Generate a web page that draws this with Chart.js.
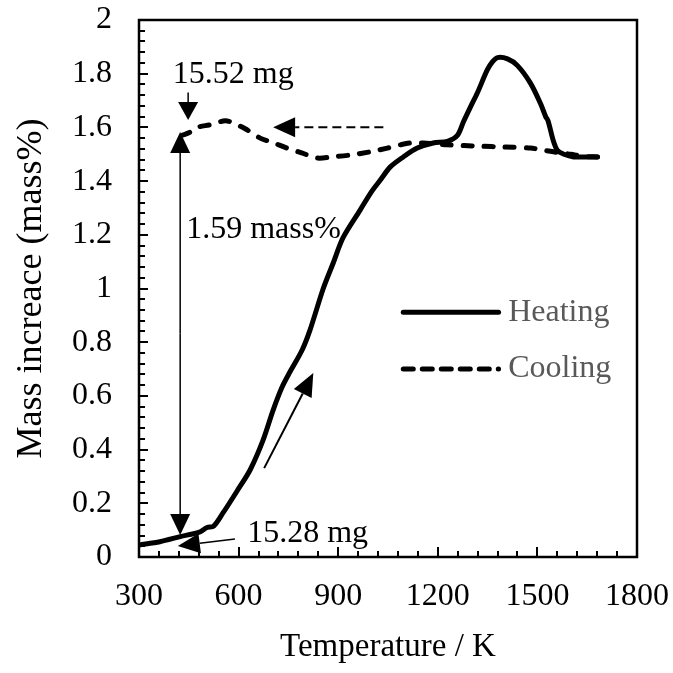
<!DOCTYPE html>
<html><head><meta charset="utf-8">
<script src="https://cdn.jsdelivr.net/npm/chart.js@4.4.0/dist/chart.umd.min.js"></script>
<style>html,body{margin:0;padding:0;background:#fff;}</style>
</head><body>
<canvas id="c" width="673" height="673" style="display:block;width:673px;height:673px"></canvas>
<script>
// ---- data ----
const heatingT    = [300, 363, 424, 484, 505, 525, 553, 595, 635, 674, 704, 731, 755, 791, 815, 855, 885, 915, 966, 1000, 1027, 1057, 1096, 1138, 1186, 1229, 1259, 1277, 1300, 1319, 1349, 1365, 1380, 1410, 1440, 1479, 1509, 1525, 1532, 1548, 1560, 1580, 1609, 1650, 1681];
const heatingMass = [0.045, 0.057, 0.076, 0.094, 0.11, 0.115, 0.164, 0.245, 0.325, 0.436, 0.547, 0.633, 0.69, 0.77, 0.845, 1.0, 1.095, 1.19, 1.292, 1.36, 1.404, 1.453, 1.49, 1.523, 1.542, 1.548, 1.57, 1.62, 1.68, 1.728, 1.814, 1.845, 1.86, 1.855, 1.83, 1.765, 1.69, 1.64, 1.625, 1.55, 1.515, 1.5, 1.49, 1.49, 1.49];
const coolingT    = [1681, 1640, 1600, 1569, 1520, 1479, 1397, 1328, 1229, 1157, 1117, 1087, 1048, 1000, 936, 880, 837, 790, 746, 700, 665, 620, 584, 560, 515, 475, 450, 433];
const coolingMass = [1.49, 1.492, 1.5, 1.505, 1.515, 1.523, 1.527, 1.53, 1.535, 1.542, 1.542, 1.535, 1.523, 1.51, 1.497, 1.49, 1.486, 1.505, 1.523, 1.545, 1.56, 1.595, 1.616, 1.625, 1.61, 1.6, 1.58, 1.572];
const seriesNames = ['Heating', 'Cooling'];
const xTickValues = [300, 600, 900, 1200, 1500, 1800];
const xTickLabels = ['300', '600', '900', '1200', '1500', '1800'];
const yTickValues = [0, 0.2, 0.4, 0.6, 0.8, 1, 1.2, 1.4, 1.6, 1.8, 2];
const yTickLabels = ['0', '0.2', '0.4', '0.6', '0.8', '1', '1.2', '1.4', '1.6', '1.8', '2'];
const xTitle = 'Temperature / K';
const yTitle = 'Mass increace (mass%)';
// annotations in data coordinates
const noteTop = {text: '15.52 mg', x: 402, y: 1.795};
const noteTopArrow = {x: 448, y0: 1.73, y1: 1.628};
const noteSpan = {text: '1.59 mass%', x: 442, y: 1.218, ax: 424, y0: 0.082, y1: 1.583};
const noteBottom = {text: '15.28 mg', x: 626, y: 0.089, x0: 589, y0: 0.067, x1: 417, y1: 0.041};
const heatArrow = {x0: 677, y0: 0.331, x1: 825, y1: 0.685};
const coolArrow = {x0: 1036, y0: 1.601, x1: 704, y1: 1.601};
const legendPos = {x0: 1096, x1: 1383, xt: 1412, yHeat: 0.912, yCool: 0.70};

const FONT = "'Liberation Serif', 'Times New Roman', serif";

function arrow(ctx, x0, y0, x1, y1, lw, hl, hw, dash) {
  const dx = x1 - x0, dy = y1 - y0, L = Math.hypot(dx, dy);
  const ux = dx / L, uy = dy / L, nx = -uy, ny = ux;
  const bx = x1 - ux * hl, by = y1 - uy * hl;
  ctx.save();
  ctx.lineWidth = lw; ctx.strokeStyle = '#000'; ctx.fillStyle = '#000';
  ctx.setLineDash(dash || []);
  ctx.beginPath(); ctx.moveTo(x0, y0); ctx.lineTo(bx, by); ctx.stroke();
  ctx.setLineDash([]);
  ctx.beginPath();
  ctx.moveTo(x1, y1);
  ctx.lineTo(bx + nx * hw / 2, by + ny * hw / 2);
  ctx.lineTo(bx - nx * hw / 2, by - ny * hw / 2);
  ctx.closePath(); ctx.fill();
  ctx.restore();
}

const decor = {
  id: 'decor',
  afterDatasetsDraw(chart) {
    const {ctx, chartArea: a, scales: {x, y}} = chart;
    ctx.save();
    // frame
    ctx.strokeStyle = '#000'; ctx.lineWidth = 2.5;
    ctx.strokeRect(a.left, a.top, a.right - a.left, a.bottom - a.top);
    // inside tick marks
    ctx.lineWidth = 2;
    ctx.beginPath();
    for (let i = 0; i <= 50; i++) {
      const v = i * 0.04;
      const py = Math.round(y.getPixelForValue(v));
      const len = (i % 5 === 0) ? 9 : 6;
      ctx.moveTo(a.left, py); ctx.lineTo(a.left + len, py);
    }
    for (let i = 0; i <= 25; i++) {
      const v = 300 + i * 60;
      const px = Math.round(x.getPixelForValue(v));
      const len = (i % 5 === 0) ? 10 : 6;
      ctx.moveTo(px, a.bottom); ctx.lineTo(px, a.bottom - len);
    }
    ctx.stroke();

    // annotations
    ctx.fillStyle = '#000';
    ctx.font = '32px ' + FONT;
    ctx.textBaseline = 'middle'; ctx.textAlign = 'left';
    ctx.fillText(noteTop.text, x.getPixelForValue(noteTop.x), y.getPixelForValue(noteTop.y));
    ctx.fillText(noteSpan.text, x.getPixelForValue(noteSpan.x), y.getPixelForValue(noteSpan.y));
    ctx.fillText(noteBottom.text, x.getPixelForValue(noteBottom.x), y.getPixelForValue(noteBottom.y));

    const tx = x.getPixelForValue(noteTopArrow.x);
    arrow(ctx, tx, y.getPixelForValue(noteTopArrow.y0), tx, y.getPixelForValue(noteTopArrow.y1), 1.5, 18, 20);
    const sx = x.getPixelForValue(noteSpan.ax);
    const sy0 = y.getPixelForValue(noteSpan.y0), sy1 = y.getPixelForValue(noteSpan.y1);
    const smid = (sy0 + sy1) / 2;
    arrow(ctx, sx, smid, sx, sy1, 1.5, 21, 20);
    arrow(ctx, sx, smid, sx, sy0, 1.5, 21, 20);
    arrow(ctx, x.getPixelForValue(noteBottom.x0), y.getPixelForValue(noteBottom.y0),
               x.getPixelForValue(noteBottom.x1), y.getPixelForValue(noteBottom.y1), 1.5, 22, 20);
    arrow(ctx, x.getPixelForValue(heatArrow.x0), y.getPixelForValue(heatArrow.y0),
               x.getPixelForValue(heatArrow.x1), y.getPixelForValue(heatArrow.y1), 2, 23, 20);
    arrow(ctx, x.getPixelForValue(coolArrow.x0), y.getPixelForValue(coolArrow.y0),
               x.getPixelForValue(coolArrow.x1), y.getPixelForValue(coolArrow.y1), 2, 22, 20, [9, 5]);

    // legend
    const lx0 = x.getPixelForValue(legendPos.x0), lx1 = x.getPixelForValue(legendPos.x1);
    const lxt = x.getPixelForValue(legendPos.xt);
    const lyh = y.getPixelForValue(legendPos.yHeat), lyc = y.getPixelForValue(legendPos.yCool);
    ctx.lineCap = 'round';
    ctx.lineWidth = 5; ctx.strokeStyle = '#000';
    ctx.beginPath(); ctx.moveTo(lx0, lyh); ctx.lineTo(lx1, lyh); ctx.stroke();
    ctx.setLineDash([10, 9]);
    ctx.beginPath(); ctx.moveTo(lx0, lyc); ctx.lineTo(lx1, lyc); ctx.stroke();
    ctx.setLineDash([]);
    ctx.fillStyle = '#595959';
    ctx.font = '32px ' + FONT;
    ctx.fillText(seriesNames[0], lxt, lyh);
    ctx.fillText(seriesNames[1], lxt, lyc);
    ctx.restore();
  }
};

const toPts = (xs, ys) => xs.map((v, i) => ({x: v, y: ys[i]}));

new Chart(document.getElementById('c'), {
  type: 'line',
  data: {
    datasets: [
      {label: seriesNames[0], data: toPts(heatingT, heatingMass), borderColor: '#000', borderWidth: 5,
       pointRadius: 0, tension: 0.3, fill: false, borderCapStyle: 'round', borderJoinStyle: 'round'},
      {label: seriesNames[1], data: toPts(coolingT, coolingMass), borderColor: '#000', borderWidth: 5,
       pointRadius: 0, tension: 0.3, fill: false, borderDash: [9, 12], borderCapStyle: 'round', borderJoinStyle: 'round'}
    ]
  },
  options: {
    responsive: false, animation: false, devicePixelRatio: 1,
    layout: {padding: {left: 0, right: 36, top: 20, bottom: 0}},
    plugins: {legend: {display: false}, tooltip: {enabled: false}},
    scales: {
      x: {
        type: 'linear', min: 300, max: 1800,
        afterBuildTicks: s => { s.ticks = xTickValues.map(v => ({value: v})); },
        afterFit: s => { s.height = 116; s.paddingLeft = 0; s.paddingRight = 0; },
        grid: {display: false, drawTicks: false}, border: {display: false},
        ticks: {callback: v => xTickLabels[xTickValues.indexOf(v)], color: '#000', padding: 20,
                maxRotation: 0, autoSkip: false, font: {family: FONT, size: 32}},
        title: {display: true, text: xTitle, color: '#000', font: {family: FONT, size: 33}, padding: {top: 0, bottom: 6}}
      },
      y: {
        type: 'linear', min: 0, max: 2,
        afterBuildTicks: s => { s.ticks = yTickValues.map(v => ({value: v})); },
        afterFit: s => { s.width = 139; s.paddingTop = 0; s.paddingBottom = 0; },
        grid: {display: false, drawTicks: false}, border: {display: false},
        ticks: {callback: v => yTickLabels[yTickValues.indexOf(v)], color: '#000', padding: 27,
                autoSkip: false, font: {family: FONT, size: 32}},
        title: {display: true, text: yTitle, color: '#000', font: {family: FONT, size: 36}, padding: {top: 10, bottom: 0}}
      }
    }
  },
  plugins: [decor]
});
</script>
</body></html>
